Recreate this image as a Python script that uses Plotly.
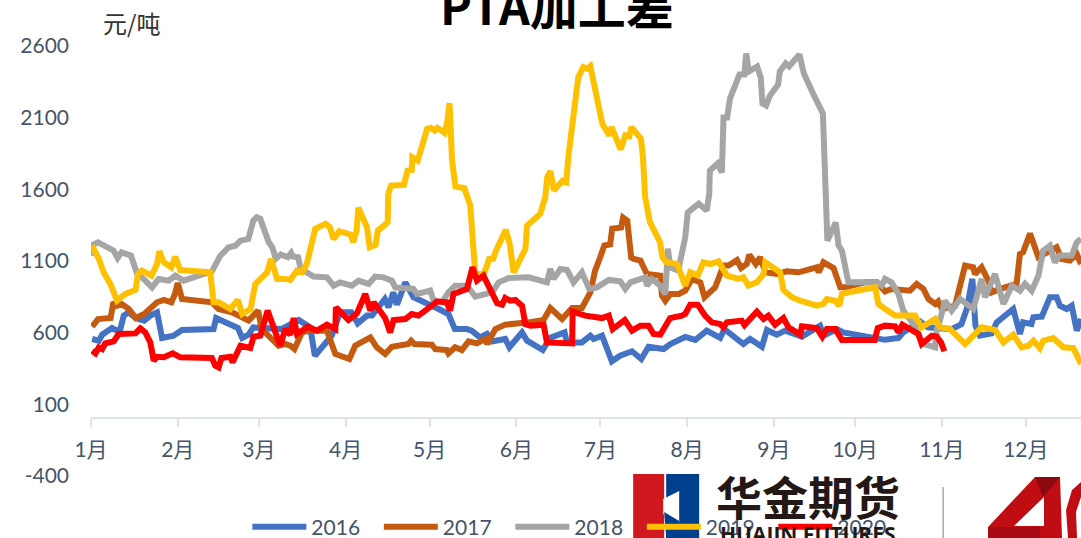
import plotly.graph_objects as go

month_starts = [1, 32, 61, 92, 122, 153, 183, 214, 245, 274, 305, 335]
month_labels = ["1月", "2月", "3月", "4月", "5月", "6月", "7月", "8月", "9月", "10月", "11月", "12月"]
y_ticks = [-400, 100, 600, 1100, 1600, 2100, 2600]
y_labels = ["-400", "100", "600", "1100", "1600", "2100", "2600"]

days_2016 = [1.4, 3.8, 5, 8.5, 10.3, 11.5, 12.7, 14.5, 16.9, 20, 22.2, 24.6, 26.4, 30.5, 33.5, 44.8, 45.7, 50.2, 52, 53.5, 55, 57.3, 59, 69, 75.2, 79.3, 81, 87, 90, 94, 96.3, 99.6, 101.4, 106, 107.3, 109, 110.3, 113.3, 116.2, 120.4, 125.2, 128.7, 131, 135.3, 137, 140, 142.5, 144.3, 149, 150.5, 155, 156.8, 162.4, 165, 170.2, 171, 176.4, 179.4, 180.6, 183.6, 187.1, 190, 194.3, 197.6, 200.2, 205.6, 208, 213.3, 216.9, 221, 225.8, 227.3, 234.1, 236.5, 240.7, 242.5, 246, 249, 255, 261.5, 262.7, 267.5, 269.8, 284.7, 289.5, 291.2, 297.2, 300, 308.5, 312, 313.9, 315.9, 317, 318.6, 322.8, 324.6, 330.5, 332.9, 334, 337, 337.7, 340.7, 343.6, 346, 347.2, 349.6, 351.4, 353.2, 354.7]
values_2016 = [556, 544, 586, 632, 614, 625, 719, 742, 702, 684, 719, 742, 563, 579, 619, 625, 702, 660, 637, 632, 563, 586, 637, 625, 688, 637, 439, 579, 742, 742, 665, 719, 719, 835, 777, 881, 795, 951, 847, 812, 765, 730, 625, 625, 614, 567, 591, 539, 556, 498, 602, 544, 479, 563, 602, 532, 532, 579, 556, 579, 400, 439, 470, 416, 502, 486, 521, 570, 549, 614, 563, 625, 521, 556, 502, 619, 586, 614, 572, 649, 579, 625, 602, 550, 563, 602, 679, 637, 625, 660, 765, 975, 649, 579, 595, 672, 765, 591, 672, 660, 707, 712, 847, 847, 788, 765, 788, 614, 695]

days_2017 = [1.4, 3.5, 8, 9, 10.3, 12, 14.5, 17, 20, 24.6, 27, 29.7, 31, 32, 33.5, 44.2, 46.6, 51.4, 57.3, 60.7, 62, 68, 70.4, 72.2, 73.7, 76.4, 79.3, 85.3, 88.3, 93.3, 95.4, 100.8, 103.1, 106.1, 108.5, 114.4, 115.4, 116.5, 122.8, 124, 128.1, 128.7, 131.1, 133.5, 135.9, 138.9, 141.8, 142.5, 145.5, 149, 157.4, 162.7, 165.1, 169.3, 172.9, 176.4, 179.4, 181.1, 182.9, 184.4, 186.5, 187.2, 190.4, 191.1, 192.6, 194, 195, 197.3, 199.6, 204.4, 205, 206.2, 208, 211, 213.3, 215.7, 218.7, 220.2, 224, 225.8, 227, 228.8, 231.8, 233.3, 235.3, 236.2, 238.5, 240.1, 241.9, 246, 249.6, 253.8, 260.3, 261, 262.7, 266.3, 268.7, 270.4, 277.6, 281.8, 284.7, 287, 290.7, 293.6, 296, 298.4, 300.2, 302.6, 303.7, 305, 309.7, 311.5, 313.3, 316.2, 316.8, 319.2, 321.6, 322.8, 325.8, 331.7, 332.9, 334, 336.5, 339.5, 343, 346, 347.8, 350.8, 353.2, 354.7]
values_2017 = [642, 695, 702, 812, 788, 800, 765, 702, 730, 812, 828, 812, 870, 947, 835, 812, 765, 742, 684, 754, 625, 509, 521, 509, 486, 602, 614, 614, 451, 416, 509, 567, 498, 451, 502, 521, 544, 521, 516, 486, 479, 456, 498, 479, 539, 525, 556, 521, 625, 656, 672, 688, 772, 695, 772, 772, 881, 1033, 1124, 1208, 1215, 1326, 1333, 1403, 1382, 1124, 1114, 1103, 1009, 998, 858, 823, 870, 870, 893, 975, 951, 847, 916, 1009, 1068, 1068, 1107, 1051, 1079, 1144, 1079, 1126, 1021, 1009, 1028, 1021, 1056, 1021, 1091, 1051, 916, 916, 951, 951, 888, 905, 893, 893, 940, 905, 835, 800, 819, 765, 788, 916, 1068, 1056, 1009, 1056, 963, 881, 905, 940, 1149, 1161, 1291, 1126, 1160, 1196, 1114, 1103, 1149, 1079]

days_2018 = [1, 1.5, 3.5, 6.7, 9.1, 10.5, 11.9, 15.3, 17.5, 19.8, 22.8, 25.2, 28.8, 31.1, 34.1, 44.2, 47.2, 50.2, 52.6, 54.4, 57.2, 59, 60.2, 61.5, 64.5, 65.8, 67, 68.8, 71.3, 72.5, 73.1, 75, 75.8, 77.5, 80.5, 85.3, 87.7, 90, 94.2, 96.6, 100.2, 102.5, 105.5, 108.5, 109.7, 116.2, 117.4, 122.2, 123.4, 126.4, 128.7, 131.1, 135.3, 138.3, 141.8, 144.3, 146.7, 150.3, 157.4, 163.9, 165.1, 166.3, 168.7, 171.1, 173.4, 176.4, 179, 181.8, 186, 190.1, 191.9, 193.7, 199.1, 199.6, 201.4, 204.4, 206.2, 207.1, 208, 210.8, 213.3, 214.2, 218.1, 221, 221.9, 222.1, 224.9, 226.4, 227, 228.3, 229.3, 232.7, 234.4, 235.1, 236, 239, 240.3, 240.9, 242.2, 243.6, 246.5, 247.1, 249.2, 250.4, 254.1, 255.7, 259.3, 262.5, 264.1, 267.1, 268.1, 269.3, 271.6, 281.8, 283.5, 284.7, 287, 289.5, 291.2, 294.8, 298.4, 302.6, 303.2, 304.3, 306.1, 308.5, 311.5, 316.2, 319.2, 320.4, 324, 327, 330, 332.9, 334.7, 337.1, 339.5, 341.2, 343.6, 345.4, 347.2, 351.4, 353.2, 354.7]
values_2018 = [1137, 1210, 1230, 1200, 1172, 1121, 1161, 1137, 1010, 975, 916, 975, 963, 998, 963, 1028, 1137, 1196, 1207, 1242, 1254, 1382, 1405, 1394, 1231, 1196, 1115, 1145, 1126, 1156, 1131, 1126, 1056, 1028, 991, 986, 928, 951, 928, 963, 940, 991, 986, 963, 916, 905, 870, 893, 823, 812, 881, 928, 928, 851, 870, 881, 951, 981, 986, 951, 1044, 975, 1044, 1037, 951, 1021, 905, 916, 968, 958, 905, 951, 986, 928, 975, 928, 870, 1186, 1056, 1033, 1263, 1438, 1500, 1452, 1570, 1731, 1780, 1717, 2101, 2101, 2234, 2401, 2401, 2548, 2422, 2457, 2380, 2199, 2185, 2255, 2331, 2422, 2478, 2457, 2541, 2408, 2255, 2129, 1242, 1368, 1208, 1172, 951, 951, 928, 975, 951, 870, 754, 660, 521, 498, 625, 684, 823, 754, 835, 765, 975, 847, 1009, 800, 928, 893, 940, 893, 998, 1172, 1207, 1091, 1138, 1138, 1230, 1254]

days_2019 = [1.4, 3.8, 5.5, 7.9, 10.3, 13.3, 16.9, 17.8, 19.2, 22.6, 24.6, 25.4, 27, 29.7, 31.1, 32.9, 43.6, 44.8, 46.6, 50.8, 52, 53.5, 55, 58, 59.7, 63.9, 65.3, 67.5, 70.4, 72.2, 74.6, 76.4, 78.1, 79.9, 81.1, 84.8, 86.3, 87.7, 89.7, 93.8, 94.7, 95.9, 96.5, 99.6, 100.6, 102.7, 103.5, 107, 107.2, 108.2, 112.8, 114.1, 115.6, 115.8, 117.7, 121.1, 122.4, 123.8, 124.8, 127.3, 128.3, 129.1, 130, 131.2, 134.4, 136.5, 137.4, 138.3, 141.4, 143.3, 144.7, 145.7, 149.2, 150.6, 152, 156.2, 156.8, 161.5, 163.3, 164, 165.1, 166.4, 169.5, 170.8, 171.6, 175.1, 176.9, 178.3, 179.4, 183.7, 186.2, 187, 190.2, 191.9, 193.3, 194.1, 197.5, 198.2, 199, 200.7, 204.3, 205.2, 206.5, 210.4, 213.3, 215.1, 217.8, 219.8, 222.2, 225.2, 228.2, 232.3, 234.1, 235.9, 238.9, 241.3, 241.9, 247.2, 248.4, 251.4, 254.4, 260.3, 262.7, 263.9, 266.9, 268.3, 269.3, 271.6, 281.2, 282.3, 284.7, 288.3, 291.8, 295.4, 297.8, 302.6, 304.3, 307.9, 313.3, 319.2, 324, 327, 330.5, 333.5, 335.9, 337.7, 340, 341.2, 344.8, 348.4, 352, 354.7]
values_2019 = [1207, 1114, 1021, 940, 823, 870, 898, 1009, 1033, 998, 1079, 1168, 1091, 1056, 1130, 1037, 1021, 812, 812, 765, 795, 828, 730, 765, 940, 1021, 1114, 975, 975, 968, 1033, 1021, 1079, 1208, 1324, 1359, 1336, 1254, 1308, 1284, 1231, 1312, 1471, 1336, 1196, 1212, 1312, 1370, 1568, 1626, 1631, 1731, 1736, 1824, 1801, 2022, 2029, 2010, 2029, 1994, 2069, 2201, 1801, 1620, 1608, 1487, 1173, 1009, 1009, 1115, 1115, 1173, 1317, 1219, 1021, 1184, 1347, 1429, 1545, 1684, 1727, 1592, 1661, 1650, 1836, 2383, 2453, 2441, 2460, 2057, 1976, 2034, 1878, 1976, 1969, 2034, 1952, 1824, 1545, 1371, 1231, 1126, 1091, 1079, 928, 1021, 998, 1091, 1079, 1098, 998, 975, 986, 928, 951, 1009, 1091, 1021, 898, 847, 823, 788, 800, 835, 823, 788, 870, 881, 916, 800, 765, 719, 719, 719, 637, 695, 637, 625, 521, 637, 619, 532, 586, 498, 509, 544, 493, 544, 563, 498, 493, 381]

days_2020 = [1.4, 2.6, 3.8, 5, 6.1, 9.1, 10.9, 16.9, 18.6, 20.4, 22.2, 23.4, 24.6, 27, 30.2, 32.9, 44.2, 45.4, 46.6, 47.6, 50.8, 51.6, 54.4, 57.9, 59.1, 61.5, 64.1, 66.9, 68.6, 70.4, 72.2, 73.4, 74.6, 78.5, 81.7, 85.3, 88.3, 88.5, 93, 96, 99, 100.8, 102, 106.1, 107.9, 109.1, 113.3, 115.6, 118, 122.8, 124.6, 128.1, 129.3, 130.5, 135.3, 137.3, 138.9, 141.2, 143.3, 144.9, 146.1, 147.9, 149, 150.8, 152.6, 155, 156.2, 158, 162.7, 163.9, 172.9, 173.1, 177.6, 183.6, 186, 187.4, 191.7, 194.3, 197.3, 200.2, 202, 204.4, 207.9, 212.1, 213.3, 215.1, 217.8, 220.4, 222.8, 225.8, 227, 228.2, 233.5, 234.5, 238.9, 241.3, 243, 245.4, 248.4, 250.2, 254.4, 255, 260.3, 262.3, 263.9, 266.9, 269.3, 281, 282.1, 284.7, 288.3, 289.5, 290.9, 296.6, 297.8, 301.4, 303.2, 304.7, 305.9]
values_2020 = [474, 456, 497, 486, 525, 539, 591, 595, 630, 602, 532, 404, 432, 428, 456, 428, 423, 370, 358, 423, 432, 393, 509, 493, 572, 579, 754, 602, 509, 625, 586, 702, 591, 642, 614, 656, 625, 777, 688, 735, 870, 754, 812, 702, 602, 688, 695, 730, 719, 788, 819, 812, 754, 870, 905, 1056, 963, 998, 916, 870, 805, 795, 842, 823, 828, 788, 660, 649, 656, 532, 525, 746, 719, 702, 719, 625, 688, 614, 649, 649, 591, 586, 702, 719, 730, 795, 795, 719, 672, 660, 637, 672, 684, 653, 746, 695, 719, 656, 702, 637, 586, 644, 632, 572, 625, 625, 549, 549, 632, 649, 644, 602, 656, 591, 521, 579, 572, 532, 470]

series = [
    ("2016", days_2016, values_2016, "#4472C4"),
    ("2017", days_2017, values_2017, "#C55A11"),
    ("2018", days_2018, values_2018, "#A5A5A5"),
    ("2019", days_2019, values_2019, "#FFC000"),
    ("2020", days_2020, values_2020, "#FF0000"),
]

FONT = "Lato, 'Noto Sans CJK SC', sans-serif"
INK = "#44546A"
L, T, B = 90.6, 46, 476
W = 1081 - L
H = B - T


def px(x):
    return (x - L) / W


def py(y):
    return (B - y) / H


def poly(points, color):
    path = "M" + " L".join(f"{px(x):.5f},{py(y):.5f}" for x, y in points) + " Z"
    return dict(type="path", xref="paper", yref="paper", path=path,
                fillcolor=color, line=dict(width=0), layer="above")


fig = go.Figure()
for name, d, v, c in series:
    fig.add_trace(go.Scatter(x=d, y=v, mode="lines", name=name,
                             line=dict(color=c, width=6, shape="linear")))

shapes = [
    poly([(633, 474), (664, 474), (664, 538), (633, 538)], "#D2181F"),
    poly([(666, 474), (699, 474), (699, 538), (666, 538)], "#003E8E"),
    poly([(663, 499), (679, 491), (679, 523), (663, 514)], "#FFFFFF"),
    poly([(664, 512), (679, 521), (679, 538), (666, 538)], "#003E8E"),
    poly([(942.5, 487), (943.6, 487), (943.6, 538), (942.5, 538)], "#8C8780"),
    poly([(1035, 477), (1060, 477), (1062, 538), (1040, 538), (1040, 527), (1010, 527), (988, 538), (988, 527)], "#C00D14"),
    poly([(1044, 497), (1044, 526), (1014, 526)], "#FFFFFF"),
    poly([(988, 527), (1040, 527), (1040, 538), (988, 538)], "#A50B11"),
    poly([(1060, 477), (1043, 497), (1035, 477)], "#8E0A10"),
    poly([(1068, 538), (1066, 510), (1072, 490), (1081, 482), (1081, 497), (1076, 512), (1077, 538)], "#C00D14"),
]

annotations = [
    dict(text="PTA加工差", x=px(557), y=py(4), xref="paper", yref="paper",
         xanchor="center", yanchor="middle", showarrow=False,
         font=dict(family="'Noto Sans CJK SC', sans-serif", size=48, color="#000000", weight="bold")),
    dict(text="元/吨", x=px(131), y=py(23), xref="paper", yref="paper",
         xanchor="center", yanchor="middle", showarrow=False,
         font=dict(family="'Noto Sans CJK SC', serif", size=24, color="#333333")),
    dict(text="华金期货", x=px(807.5), y=py(495), xref="paper", yref="paper",
         xanchor="center", yanchor="middle", showarrow=False,
         font=dict(family="'Noto Sans CJK SC', sans-serif", size=46, color="#231815", weight="bold")),
    dict(text="HUAJIN FUTURES", x=px(807.5), y=py(534), xref="paper", yref="paper",
         xanchor="center", yanchor="middle", showarrow=False,
         font=dict(family="'Open Sans', sans-serif", size=21, color="#231815", weight="bold")),
]

fig.update_layout(
    width=1081, height=538, autosize=False,
    margin=dict(l=L, r=0, t=T, b=538 - B, pad=0, autoexpand=False),
    paper_bgcolor="#FFFFFF", plot_bgcolor="#FFFFFF",
    font=dict(family=FONT, size=21, color=INK),
    xaxis=dict(range=[1, 1 + W / 2.8], tickmode="array", tickvals=month_starts, ticktext=month_labels,
               showgrid=False, zeroline=False, showline=True, linecolor="#DEE3EA", linewidth=2,
               ticks="outside", ticklen=8, tickcolor="#DEE3EA", tickwidth=2, automargin=False,
               anchor="free", position=(476 - 418) / 430, ticklabelstandoff=5,
               tickfont=dict(family=FONT, size=21, color=INK)),
    yaxis=dict(range=[-400, 2600], tickmode="array", tickvals=y_ticks, ticktext=y_labels,
               showgrid=False, zeroline=False, showline=False, ticks="", ticklabelstandoff=21, automargin=False,
               tickfont=dict(family=FONT, size=21, color=INK)),
    legend=dict(orientation="h", x=px(247), y=py(527), xanchor="left", yanchor="middle",
                itemwidth=54, entrywidth=62.5, entrywidthmode="pixels", bgcolor="rgba(0,0,0,0)",
                font=dict(family=FONT, size=21, color=INK)),
    shapes=shapes,
    annotations=annotations,
)

fig.write_html("out.html", config={"displayModeBar": False},
               post_script="document.body.style.margin='0';document.body.style.overflow='hidden';")
